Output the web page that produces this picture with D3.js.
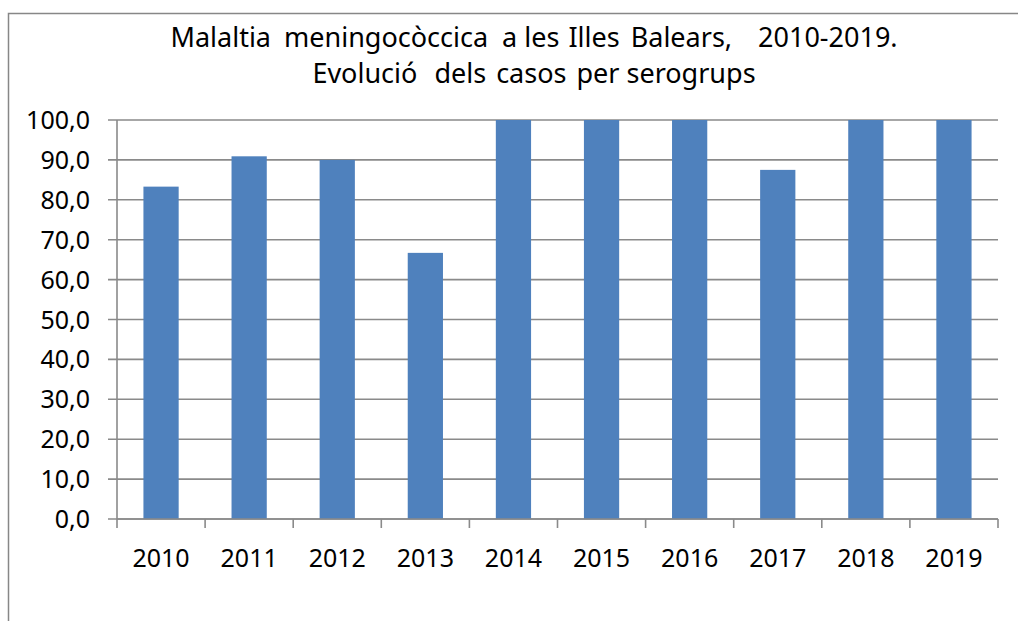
<!DOCTYPE html>
<html>
<head>
<meta charset="utf-8">
<script src="https://cdn.jsdelivr.net/npm/d3@7"></script>
<style>
  body { margin: 0; background: #fff; }
  text { font-family: "Noto Sans", "Open Sans", sans-serif; fill: #000; }
</style>
</head>
<body>
<div id="chart"></div>
<script>
const years = ["2010", "2011", "2012", "2013", "2014", "2015", "2016", "2017", "2018", "2019"];
const values = [83.3, 90.9, 90.0, 66.7, 100.0, 100.0, 100.0, 87.5, 100.0, 100.0];
const yTicks = [0, 10, 20, 30, 40, 50, 60, 70, 80, 90, 100];
const titleWords1 = ["Malaltia", "meningocòccica", "a", "les", "Illes", "Balears,", "2010-2019."];
const titleWords2 = ["Evolució", "dels", "casos", "per", "serogrups"];
// extra room before each word (px), the source title has uneven spacing
const titleGaps1 = [0, 6, 7, 0, 2, 4, 19];
const titleGaps2 = [0, 10, 3, 3, 0];

const W = 1018, H = 621;
const margin = { top: 120, right: 20, bottom: 102, left: 117 },
    width = 998 - margin.left,
    height = 519 - margin.top;

const svg = d3.select("#chart")
    .append("svg")
    .attr("width", W)
    .attr("height", H);

// outer chart frame (runs off the right and bottom of the picture)
svg.append("rect")
    .attr("x", 8.5)
    .attr("y", 13.5)
    .attr("width", 1200)
    .attr("height", 800)
    .style("fill", "none")
    .style("stroke", "#878787")
    .style("stroke-width", 1.5);

[[titleWords1, titleGaps1], [titleWords2, titleGaps2]].forEach(function (line, i) {
    const t = svg.append("text")
        .attr("x", 534)
        .attr("y", 47 + i * 36)
        .style("text-anchor", "middle")
        .style("font-size", "27px")
        .style("white-space", "pre");
    t.selectAll("tspan")
        .data(line[0])
        .enter()
        .append("tspan")
        .attr("dx", (d, j) => line[1][j])
        .text((d, j) => (j > 0 ? " " : "") + d);
});

const g = svg.append("g")
    .attr("transform", "translate(" + margin.left + "," + margin.top + ")");

const x = d3.scaleBand().domain(years).range([0, width]).paddingInner(0.6).paddingOuter(0.3);
const band = d3.scaleBand().domain(years).range([0, width]);
const y = d3.scaleLinear().domain([0, 100]).range([height, 0]);

// gridlines with the left tick stubs
g.selectAll(".grid")
    .data(yTicks)
    .enter()
    .append("line")
    .attr("class", "grid")
    .attr("x1", -9).attr("x2", width)
    .attr("y1", d => y(d)).attr("y2", d => y(d))
    .style("stroke", "#8a8a8a")
    .style("stroke-width", 1.6);

g.selectAll("rect.bar")
    .data(values)
    .enter()
    .append("rect")
    .attr("class", "bar")
    .attr("x", (d, i) => x(years[i]))
    .attr("y", d => y(d))
    .attr("width", x.bandwidth())
    .attr("height", d => height - y(d))
    .style("fill", "#4f81bd");

// y axis labels
g.selectAll(".ylab")
    .data(yTicks)
    .enter()
    .append("text")
    .attr("class", "ylab")
    .attr("x", -27)
    .attr("y", d => y(d))
    .attr("dy", "0.36em")
    .style("text-anchor", "end")
    .style("font-size", "25px")
    .text(d => d3.format(".1f")(d).replace(".", ","));

// y axis line
g.append("line")
    .attr("x1", 0).attr("x2", 0)
    .attr("y1", 0).attr("y2", height)
    .style("stroke", "#8a8a8a")
    .style("stroke-width", 1.6);

// x axis with boundary ticks
const bounds = years.map(d => band(d)).concat([width]);
g.append("line")
    .attr("x1", 0).attr("x2", width)
    .attr("y1", height).attr("y2", height)
    .style("stroke", "#8a8a8a")
    .style("stroke-width", 1.6);
g.selectAll(".xtick")
    .data(bounds)
    .enter()
    .append("line")
    .attr("class", "xtick")
    .attr("x1", d => d).attr("x2", d => d)
    .attr("y1", height).attr("y2", height + 9)
    .style("stroke", "#8a8a8a")
    .style("stroke-width", 1.6);

g.selectAll(".xlab")
    .data(years)
    .enter()
    .append("text")
    .attr("class", "xlab")
    .attr("x", d => band(d) + band.bandwidth() / 2)
    .attr("y", height + 48)
    .style("text-anchor", "middle")
    .style("font-size", "25px")
    .text(d => d);
</script>
</body>
</html>
